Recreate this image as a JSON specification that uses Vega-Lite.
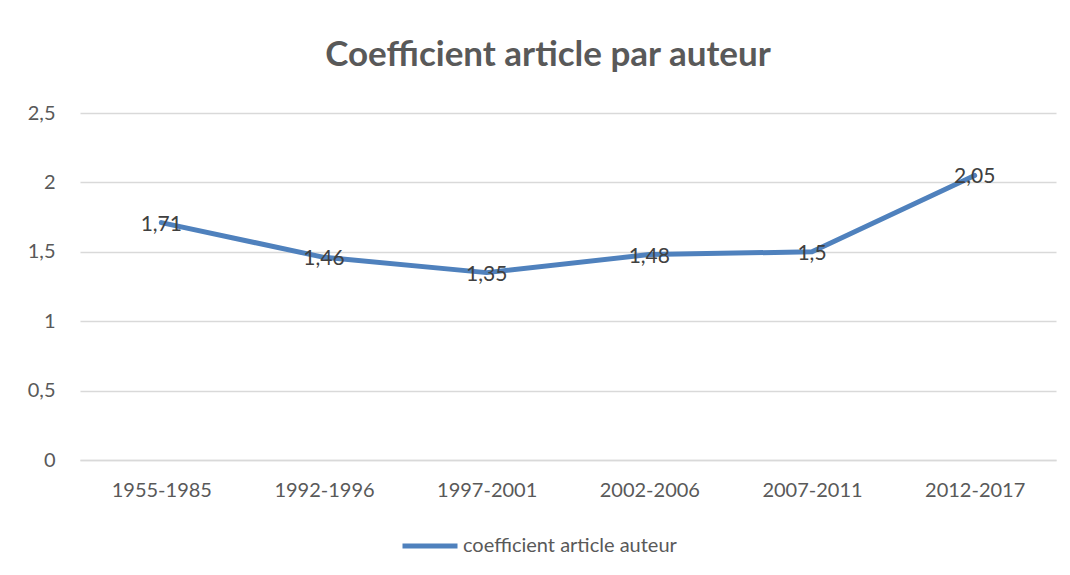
{
  "$schema": "https://vega.github.io/schema/vega-lite/v6.json",
  "width": 976,
  "height": 347,
  "autosize": {"type": "none"},
  "padding": {"left": 80, "top": 113, "right": 14, "bottom": 115},
  "background": "white",
  "config": {
    "locale": {"number": {"decimal": ",", "thousands": " ", "grouping": [3], "currency": ["", " €"]}},
    "font": "Lato",
    "view": {"stroke": null}
  },
  "title": {
    "text": "Coefficient article par auteur",
    "font": "Lato",
    "fontSize": 35,
    "fontWeight": "bold",
    "color": "#595959",
    "anchor": "middle",
    "dx": -20,
    "offset": 30
  },
  "data": {
    "values": [
      {"periode": "1955-1985", "coef": 1.71},
      {"periode": "1992-1996", "coef": 1.46},
      {"periode": "1997-2001", "coef": 1.35},
      {"periode": "2002-2006", "coef": 1.48},
      {"periode": "2007-2011", "coef": 1.5},
      {"periode": "2012-2017", "coef": 2.05}
    ]
  },
  "encoding": {
    "x": {
      "field": "periode",
      "type": "nominal",
      "sort": null,
      "scale": {"paddingInner": 0, "paddingOuter": 0},
      "axis": {
        "title": null,
        "labelAngle": 0,
        "labelFontSize": 20,
        "labelColor": "#595959",
        "labelPadding": 20,
        "ticks": false,
        "domain": true,
        "domainColor": "#d9d9d9",
        "domainWidth": 1.5,
        "grid": false
      }
    },
    "y": {
      "field": "coef",
      "type": "quantitative",
      "scale": {"domain": [0, 2.5], "nice": false},
      "axis": {
        "title": null,
        "values": [0, 0.5, 1, 1.5, 2, 2.5],
        "format": "~g",
        "labelFontSize": 20,
        "labelColor": "#595959",
        "labelPadding": 25,
        "ticks": false,
        "domain": false,
        "grid": true,
        "gridColor": "#d9d9d9",
        "gridWidth": 1.5
      }
    }
  },
  "layer": [
    {
      "mark": {"type": "line", "strokeWidth": 5, "strokeCap": "round", "strokeJoin": "round"},
      "encoding": {
        "color": {
          "datum": "coefficient article auteur",
          "type": "nominal",
          "scale": {"range": ["#4f81bd"]},
          "legend": {
            "title": null,
            "orient": "none",
            "legendX": 320,
            "legendY": 403,
            "symbolType": "stroke",
            "symbolSize": 3025,
            "symbolStrokeWidth": 5,
            "labelFontSize": 20,
            "labelColor": "#595959",
            "labelOffset": 3,
            "labelLimit": 0
          }
        }
      }
    },
    {
      "mark": {"type": "text", "fontSize": 21, "color": "#404040", "baseline": "middle", "align": "center", "dy": 2},
      "encoding": {
        "text": {"field": "coef", "type": "quantitative", "format": "~g"}
      }
    }
  ]
}
